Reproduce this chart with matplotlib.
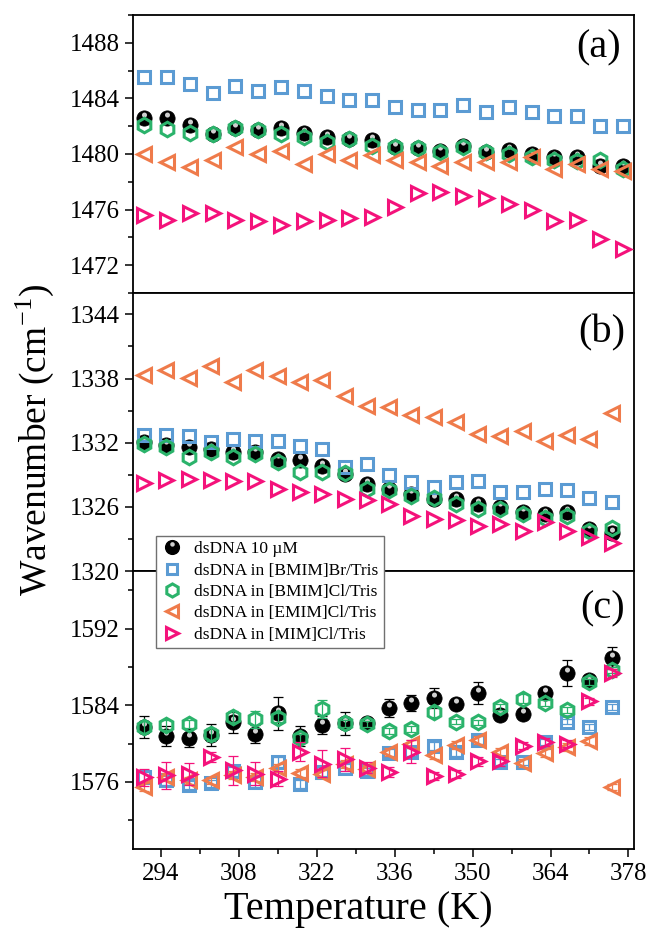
import numpy as np
import matplotlib
matplotlib.use('Agg')
import matplotlib.pyplot as plt
from matplotlib.path import Path
from matplotlib.lines import Line2D
from matplotlib.ticker import MultipleLocator
from matplotlib.legend_handler import HandlerTuple

plt.rcParams['font.family'] = 'Liberation Serif'
plt.rcParams['mathtext.fontset'] = 'stix'

# temperatures (K), same for all three bands
temps = [291, 295, 299, 303, 307, 311, 315, 319, 323, 327, 331,
         335, 339, 343, 347, 351, 355, 359, 363, 367, 371, 375]

labels = ['dsDNA 10 \u00b5M', 'dsDNA in [BMIM]Br/Tris', 'dsDNA in [BMIM]Cl/Tris',
          'dsDNA in [EMIM]Cl/Tris', 'dsDNA in [MIM]Cl/Tris']

#  ---------------- (a) ~1480 band ----------------  #
a_dna = [1482.6, 1482.6, 1482.1, 1481.45, 1481.9, 1481.7, 1481.85, 1481.5, 1481.2, 1481.1, 1481.0,
         1480.5, 1480.4, 1480.2, 1480.55, 1480.15, 1480.3, 1480.0, 1479.8, 1479.75, 1479.1, 1479.1]
a_br = [1485.55, 1485.55, 1485.05, 1484.4, 1484.9, 1484.55, 1484.8, 1484.5, 1484.15, 1483.9, 1483.9,
        1483.4, 1483.2, 1483.2, 1483.5, 1483.0, 1483.35, 1483.0, 1482.7, 1482.7, 1482.0, 1482.0]
a_bmcl = [1482.05, 1481.8, 1481.5, 1481.45, 1481.9, 1481.7, 1481.45, 1481.2, 1480.85, 1481.1, 1480.6,
          1480.5, 1480.4, 1480.15, 1480.5, 1480.15, 1480.0, 1479.8, 1479.6, 1479.5, 1479.6, 1478.95]
a_emcl = [1480.0, 1479.45, 1479.05, 1479.6, 1480.5, 1480.0, 1480.2, 1479.3, 1480.0, 1479.6, 1479.9,
          1479.6, 1479.45, 1479.1, 1479.45, 1479.45, 1479.45, 1479.8, 1478.95, 1479.3, 1478.95, 1478.8]
a_mimcl = [1475.6, 1475.25, 1475.75, 1475.75, 1475.25, 1475.15, 1474.9, 1475.15, 1475.25, 1475.4, 1475.5,
           1476.2, 1477.2, 1477.3, 1476.95, 1476.8, 1476.4, 1476.0, 1475.15, 1475.25, 1473.85, 1473.15]

#  ---------------- (b) ~1330 band ----------------  #
b_dna = [1332.05, 1331.75, 1331.6, 1331.45, 1331.1, 1331.1, 1330.5, 1330.35, 1329.85, 1329.1, 1328.15,
         1327.65, 1327.2, 1326.75, 1326.75, 1326.25, 1325.95, 1325.5, 1325.3, 1325.5, 1323.9, 1323.6]
b_br = [1332.7, 1332.7, 1332.6, 1332.05, 1332.3, 1332.2, 1332.2, 1331.7, 1331.45, 1329.75, 1330.0,
        1328.95, 1328.3, 1327.85, 1328.35, 1328.45, 1327.35, 1327.35, 1327.65, 1327.6, 1326.8, 1326.5]
b_bmcl = [1331.9, 1331.6, 1330.65, 1331.1, 1330.65, 1330.9, 1330.2, 1329.25, 1329.25, 1329.15, 1327.65,
          1327.6, 1327.05, 1326.85, 1326.25, 1325.8, 1325.8, 1325.3, 1325.0, 1325.15, 1323.75, 1324.05]
b_emcl = [1338.3, 1338.8, 1338.05, 1339.15, 1337.7, 1338.8, 1338.25, 1337.7, 1337.85, 1336.4, 1335.45,
          1335.35, 1334.55, 1334.4, 1333.95, 1332.85, 1332.6, 1333.1, 1332.15, 1332.75, 1332.35, 1334.8]
b_mimcl = [1328.2, 1328.5, 1328.6, 1328.5, 1328.45, 1328.4, 1327.65, 1327.35, 1327.2, 1326.75, 1326.6,
           1326.25, 1325.15, 1324.85, 1324.75, 1324.25, 1324.4, 1323.75, 1324.55, 1323.75, 1323.15, 1322.65]

#  ---------------- (c) ~1580 band ----------------  #
c_dna = [1581.75, 1580.8, 1580.55, 1580.9, 1582.2, 1581.0, 1583.15, 1580.8, 1581.95, 1582.1, 1582.1,
         1583.7, 1584.2, 1584.75, 1584.1, 1585.3, 1583.0, 1583.1, 1585.25, 1587.4, 1586.6, 1588.9]
c_dna_err = [1.15, 1.05, 0.95, 1.1, 1.1, 0.9, 1.7, 1.0, 0.9, 1.2, 0.5,
             0.9, 0.85, 1.05, 0.5, 1.15, 0.5, 0.4, 0.6, 1.35, 0.6, 1.15]
c_br = [1576.5, 1576.15, 1575.65, 1575.85, 1577.1, 1576.0, 1578.1, 1575.8, 1577.0, 1577.5, 1577.1,
        1579.0, 1579.15, 1579.75, 1579.15, 1580.35, 1578.1, 1578.1, 1580.2, 1582.3, 1581.7, 1583.8]
c_br_err = [0.5, 0.5, 0.4, 0.4, 0.5, 0.5, 0.5, 0.4, 0.4, 0.4, 0.4,
            0.4, 0.4, 0.4, 0.4, 0.4, 0.3, 0.3, 0.3, 0.3, 0.3, 0.3]
c_bmcl = [1581.75, 1581.95, 1582.05, 1580.95, 1582.8, 1582.55, 1582.7, 1580.55, 1583.6, 1582.1, 1582.05,
          1581.3, 1581.55, 1583.3, 1582.3, 1582.2, 1583.85, 1584.7, 1584.25, 1583.5, 1586.4, 1587.7]
c_bmcl_err = [0.6, 0.5, 0.4, 0.7, 0.6, 0.9, 0.5, 0.5, 0.9, 0.4, 0.3,
              0.3, 0.3, 0.5, 0.3, 0.3, 0.3, 0.5, 0.3, 0.3, 0.3, 0.3]
c_emcl = [1575.5, 1576.5, 1576.15, 1576.15, 1576.7, 1576.5, 1577.45, 1576.95, 1576.8, 1577.9, 1577.4,
          1579.1, 1579.95, 1578.8, 1579.85, 1580.4, 1579.15, 1577.95, 1579.0, 1579.65, 1580.25, 1575.5]
c_emcl_err = [0.4, 0.4, 0.4, 0.4, 0.4, 0.4, 0.4, 0.4, 0.4, 0.4, 0.4,
              0.4, 0.4, 0.4, 0.4, 0.4, 0.4, 0.4, 0.4, 0.4, 0.4, 0.3]
c_mimcl = [1576.5, 1576.7, 1576.8, 1578.6, 1577.2, 1576.85, 1576.35, 1579.15, 1577.9, 1578.35, 1577.5,
           1577.05, 1579.15, 1576.65, 1576.8, 1578.15, 1578.15, 1579.8, 1580.2, 1580.0, 1584.4, 1587.35]
c_mimcl_err = [0.9, 1.4, 1.15, 0.5, 1.5, 1.2, 0.8, 1.0, 1.4, 1.2, 0.6,
               0.5, 1.2, 0.4, 0.4, 0.5, 0.5, 0.4, 0.4, 0.4, 0.4, 0.4]

COLORS = ['black', '#5b9bd3', '#2bb36b', '#ef7b4b', '#f4127b']
MARKERS = ['o', 's', 'h', '<', '>']
SIZES = [11, 8.5, 10.5, 10, 10]
SHINE_COLOR = '#cfcfcf'

# glossy highlight on the black balls (extra move-to points keep the scale of a full circle)
_c = Path.circle((0.0, 0.45), 0.33)
SHINE = Path(np.vstack([[[-1, -1], [1, 1]], _c.vertices]),
             np.concatenate([[Path.MOVETO, Path.MOVETO], _c.codes]))


def draw_band(ax, series, errs=None):
    for i, y in enumerate(series):
        if errs is not None:
            ax.errorbar(temps, y, yerr=errs[i], fmt='none', ecolor=COLORS[i],
                        elinewidth=0.9, capsize=3.5, capthick=0.9, zorder=2 + i)
        if i == 0:
            ax.plot(temps, y, ls='none', marker='o', ms=SIZES[0], mfc='black',
                    mec='black', mew=0.5, zorder=2.5)
            ax.plot(temps, y, ls='none', marker=SHINE, ms=SIZES[0], mfc=SHINE_COLOR,
                    mec='none', zorder=2.6)
        else:
            ax.plot(temps, y, ls='none', marker=MARKERS[i], ms=SIZES[i], mfc='none',
                    mec=COLORS[i], mew=2.2, zorder=3 + i)


fig, axs = plt.subplots(3, 1, figsize=(6.5, 9.36), dpi=100)
plt.subplots_adjust(left=0.2046, right=0.9754, top=0.984, bottom=0.0929, hspace=0)

draw_band(axs[0], [a_dna, a_br, a_bmcl, a_emcl, a_mimcl])
draw_band(axs[1], [b_dna, b_br, b_bmcl, b_emcl, b_mimcl])
draw_band(axs[2], [c_dna, c_br, c_bmcl, c_emcl, c_mimcl],
          [c_dna_err, c_br_err, c_bmcl_err, c_emcl_err, c_mimcl_err])

axs[0].set_ylim(1470, 1490)
axs[1].set_ylim(1320, 1346)
axs[2].set_ylim(1569, 1598)
axs[0].set_xlim(289, 377)
axs[1].set_xlim(289, 379)
axs[2].set_xlim(289, 379)

axs[0].yaxis.set_major_locator(MultipleLocator(4))
axs[0].yaxis.set_minor_locator(MultipleLocator(2))
axs[1].yaxis.set_major_locator(MultipleLocator(6))
axs[1].yaxis.set_minor_locator(MultipleLocator(3))
axs[2].yaxis.set_major_locator(MultipleLocator(8))
axs[2].yaxis.set_minor_locator(MultipleLocator(4))

# top band has its own temperature scale, ticks every 5 K, no labels
axs[0].xaxis.set_major_locator(MultipleLocator(5))
axs[0].xaxis.set_major_formatter(plt.NullFormatter())
for ax in axs[1:]:
    ax.set_xticks([294, 308, 322, 336, 350, 364, 378])
    ax.set_xticks([301, 315, 329, 343, 357, 371], minor=True)
axs[1].set_xticklabels([])

for ax in axs:
    ax.tick_params(which='major', direction='out', length=6, width=1.1,
                   labelsize=18, top=False, right=False)
    ax.tick_params(which='minor', direction='out', length=3.5, width=1.1,
                   top=False, right=False)
    for sp in ax.spines.values():
        sp.set_linewidth(1.3)
axs[2].tick_params(axis='x', which='major', pad=4)

panel_pos = [(0.930, 0.880), (0.936, 0.857), (0.938, 0.862)]
for ax, tag, (px, py) in zip(axs, ['(a)', '(b)', '(c)'], panel_pos):
    ax.text(px, py, tag, transform=ax.transAxes, fontsize=29,
            ha='center', va='center')

fig.text(0.054, 0.53, 'Wavenumber (cm$^{\\mathregular{-1}}$)', rotation=90,
         fontsize=27, ha='center', va='center')
fig.text(0.552, 0.028, 'Temperature (K)', fontsize=29, ha='center', va='center')

# legend handles
handles = [(Line2D([], [], ls='none', marker='o', ms=SIZES[0], mfc='black', mec='black'),
            Line2D([], [], ls='none', marker=SHINE, ms=SIZES[0], mfc=SHINE_COLOR, mec='none'))]
for i in range(1, 5):
    handles.append(Line2D([], [], ls='none', marker=MARKERS[i], ms=SIZES[i],
                          mfc='none', mec=COLORS[i], mew=2.2))
leg = fig.legend(handles, labels, loc='upper left', bbox_to_anchor=(0.24, 0.4274),
                 handler_map={tuple: HandlerTuple(ndivide=1, pad=0)},
                 frameon=True, fancybox=False, framealpha=1, edgecolor='#707070',
                 fontsize=12.5, markerscale=0.9, handlelength=1.2, handletextpad=0.7,
                 labelspacing=0.3, borderpad=0.3, borderaxespad=0)
leg.get_frame().set_linewidth(1.0)

fig.savefig('out.png', dpi=100)
